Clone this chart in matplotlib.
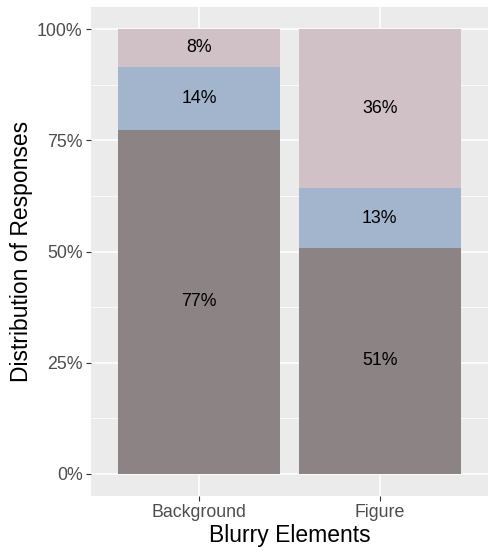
import matplotlib
matplotlib.use("Agg")
import matplotlib.pyplot as plt
import numpy as np

plt.rcParams['font.family'] = ['Liberation Sans', 'DejaVu Sans']

# Share of responses per blurry element, stacked bottom to top
categories = ["Background", "Figure"]
bottom_share = [77.3, 50.8]
middle_share = [14.3, 13.4]
top_share = [8.4, 35.8]
series = [bottom_share, middle_share, top_share]
series_colors = ["#8C8385", "#A2B5CD", "#CFC1C5"]
y_ticks = [0, 25, 50, 75, 100]
y_tick_labels = ["0%", "25%", "50%", "75%", "100%"]

fig = plt.figure(figsize=(4.88, 5.52), dpi=100)
ax = fig.add_axes([91 / 488, 56 / 552, 397 / 488, 489 / 552])
ax.set_facecolor("#EBEBEB")

x = np.arange(len(categories))
base = np.zeros(len(categories))
for vals, col in zip(series, series_colors):
    vals = np.array(vals)
    ax.bar(x, vals, bottom=base, width=0.9, color=col, zorder=2)
    for xi, b, v in zip(x, base, vals):
        ax.text(xi, b + v / 2, f"{round(v):d}%", ha="center", va="center",
                fontsize=12.8, color="black", zorder=3)
    base = base + vals

ax.set_xlim(-0.6, 1.6)
ax.set_ylim(-5, 105)
ax.set_xticks(x)
ax.set_xticklabels(categories)
ax.set_yticks(y_ticks)
ax.set_yticklabels(y_tick_labels)
ax.set_yticks([12.5, 37.5, 62.5, 87.5], minor=True)

ax.grid(True, which="major", color="white", linewidth=1.1, zorder=0)
ax.grid(True, which="minor", axis="y", color="white", linewidth=0.55, zorder=0)
ax.set_axisbelow(True)
for s in ax.spines.values():
    s.set_visible(False)

ax.tick_params(axis="both", which="major", length=3.5, width=0.8, color="#333333",
               labelsize=12.8, labelcolor="#4D4D4D", pad=2.5)
ax.tick_params(axis="both", which="minor", length=0)

ax.set_xlabel("Blurry Elements", fontsize=16.5, color="black", labelpad=2)
ax.set_ylabel("Distribution of Responses", fontsize=16.5, color="black", labelpad=3)

fig.savefig("out.png", dpi=100, facecolor="white")
